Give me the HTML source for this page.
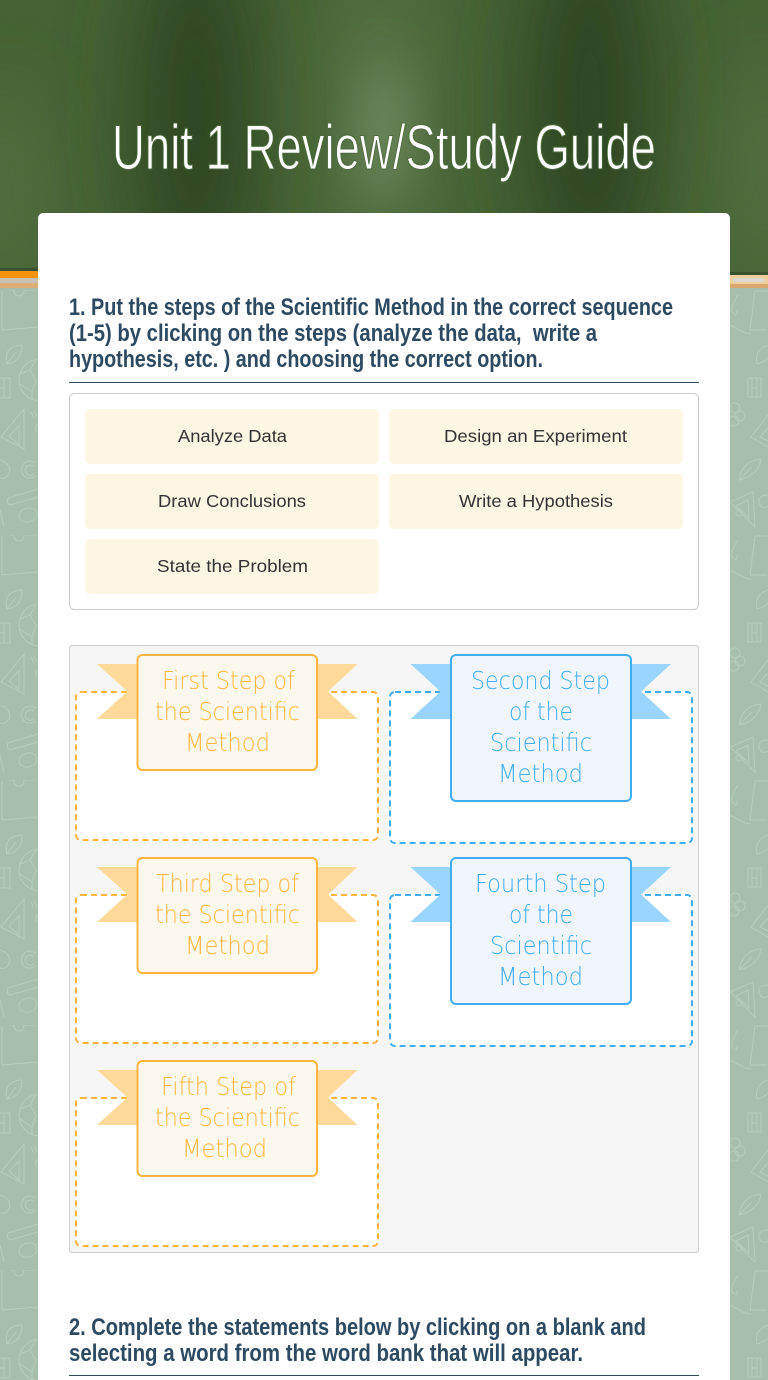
<!DOCTYPE html>
<html><head><meta charset="utf-8"><title>Unit 1 Review/Study Guide</title>
<style>html,body{margin:0;padding:0;background:#a6bfad;width:768px;height:1380px;overflow:hidden}svg{display:block}
.h{font:bold 24px "Liberation Sans",sans-serif;fill:#2d4a62}
.c{font:17.5px "Liberation Sans",sans-serif;fill:#333}
.m{font:200 24.5px "DejaVu Sans","Liberation Sans",sans-serif}
.d{fill:none;stroke:#b6cdbd;stroke-width:1}</style></head><body>
<svg xmlns="http://www.w3.org/2000/svg" width="768" height="1380" viewBox="0 0 768 1380">
<defs>
<filter id="bl1" x="-80%" y="-60%" width="260%" height="220%"><feGaussianBlur stdDeviation="40"/></filter>
<filter id="bl2" x="-80%" y="-60%" width="260%" height="220%"><feGaussianBlur stdDeviation="24"/></filter>
<clipPath id="bc"><rect width="768" height="275"/></clipPath>
<pattern id="dood" patternUnits="userSpaceOnUse" x="0" y="290" width="768" height="245" viewBox="0 290 768 245">
<path class="d" d="M2 291V330L38 327M10 290H14Q14 296 19 296Q24 296 24 290H38"/>
<path class="d" d="M7 364Q3 346 22 345Q22 362 7 364ZM7 364L16 352"/>
<circle class="d" cx="40" cy="380" r="21"/><path class="d" d="M20 374L30 370L36 360M20 384L32 392L32 399M30 370L36 380L32 392"/>
<path class="d" d="M0 378H10V398H0M4 378V398M0 388H4"/>
<path class="d" d="M24 409V449L1 437ZM19 426V445L9 436Z"/>
<path class="d" d="M31 412L34 418M34 411L37 417M38 424Q34 428 37 432"/>
<path class="d" d="M0 460Q12 464 9 474Q5 480 0 478"/>
<path class="d" d="M36 463Q24 457 21 470Q24 482 36 476M34 466Q27 463 25 470Q27 478 34 474"/>
<path class="d" d="M8 498L38 489M10 505L38 497M8 498Q6 503 10 505"/>
<ellipse class="d" cx="28" cy="515" rx="9" ry="7" transform="rotate(-15 28 515)"/>
<path class="d" d="M0 510L4 527"/>
<path class="d" d="M750 330L755 291H768M750 330L767 330M738 295Q731 305 732 312Q738 318 737 310"/>
<path class="d" d="M730 325L745 333L751 334"/>
<path class="d" d="M757 364Q754 350 768 345M757 364Q765 362 768 358"/>
<path class="d" d="M748 378H761V397H748ZM752 378V397M757 378V397M752 388H757"/>
<circle class="d" cx="735" cy="408" r="5"/><circle class="d" cx="740" cy="416" r="5"/><circle class="d" cx="734" cy="421" r="5"/>
<path class="d" d="M768 415L751 437L768 447M768 428L760 437L768 441"/>
<path class="d" d="M739 480Q742 461 761 459Q758 476 739 480ZM739 480L752 467"/>
<path class="d" d="M730 502L753 492L755 527ZM736 506L748 500L749 518Z"/>
<path class="d" d="M768 495Q758 495 759 503Q762 510 768 506"/>
<circle class="d" cx="739" cy="513" r="3"/>
</pattern>
<g id="or"><path fill="#ffd999" d="M97 664H140V719H97L127.500 691.500Z"/><path fill="#ffd999" d="M315 664H357.500L328 691.500L357.500 719H315Z"/></g>
<g id="bl"><path fill="#99d5ff" d="M410.500 664H454V719H410.500L440.500 691.500Z"/><path fill="#99d5ff" d="M628 664H671L641 691.500L671 719H628Z"/></g>
</defs>
<rect width="768" height="1380" fill="#a6bfad"/>
<rect y="288" width="768" height="1092" fill="url(#dood)"/>
<g clip-path="url(#bc)">
<rect width="768" height="275" fill="#466335"/>
<g filter="url(#bl1)" fill="#2f4520">
<ellipse cx="195" cy="110" rx="60" ry="190"/><ellipse cx="590" cy="100" rx="65" ry="190"/>
</g>
<g filter="url(#bl1)" fill="#587546">
<ellipse cx="380" cy="110" rx="45" ry="160"/><ellipse cx="0" cy="190" rx="30" ry="100"/><ellipse cx="768" cy="170" rx="30" ry="110"/>
</g>
<g filter="url(#bl2)"><ellipse cx="384" cy="130" rx="22" ry="70" fill="#6f8a5e"/></g>
</g>
<rect y="268" width="38" height="3" fill="#3a5230"/>
<rect x="730" y="272" width="38" height="3" fill="#3a5230"/>
<rect y="271" width="38" height="7" fill="#f5930f"/><rect y="278" width="38" height="5" fill="#c9c2b4"/><rect y="283" width="38" height="5" fill="#dcae78"/>
<rect x="730" y="275" width="38" height="13" fill="#efcf9c"/><rect x="733" y="278" width="31" height="4" fill="#dcdad0"/><rect x="730" y="284" width="38" height="4" fill="#d9a86e"/>
<text x="112" y="169" textLength="544" lengthAdjust="spacingAndGlyphs" font-family="Liberation Sans,sans-serif" font-size="63" fill="#fff" stroke="#4c6a3c" stroke-width="1.100" paint-order="fill stroke">Unit 1 Review/Study Guide</text>
<path d="M43 213H725a5 5 0 0 1 5 5V1380H38V218a5 5 0 0 1 5-5Z" fill="#fff"/>
<text class="h" x="69" y="315" textLength="604" lengthAdjust="spacingAndGlyphs">1. Put the steps of the Scientific Method in the correct sequence</text>
<text class="h" x="69" y="341" textLength="528" lengthAdjust="spacingAndGlyphs" xml:space="preserve">(1-5) by clicking on the steps (analyze the data,  write a</text>
<text class="h" x="69" y="367" textLength="474" lengthAdjust="spacingAndGlyphs">hypothesis, etc. ) and choosing the correct option.</text>
<rect x="69" y="382" width="630" height="1" fill="#2d4a62"/>
<rect x="69.500" y="393.500" width="629" height="216" rx="5" fill="#fff" stroke="#ccc"/>
<g fill="#fdf6e3"><rect x="85" y="409" width="294" height="55" rx="5"/><rect x="389" y="409" width="294" height="55" rx="5"/><rect x="85" y="474" width="294" height="55" rx="5"/><rect x="389" y="474" width="294" height="55" rx="5"/><rect x="85" y="539" width="294" height="55" rx="5"/></g>
<text class="c" x="178" y="442" textLength="109" lengthAdjust="spacingAndGlyphs">Analyze Data</text>
<text class="c" x="444" y="442" textLength="183" lengthAdjust="spacingAndGlyphs">Design an Experiment</text>
<text class="c" x="158" y="507" textLength="148" lengthAdjust="spacingAndGlyphs">Draw Conclusions</text>
<text class="c" x="459" y="507" textLength="154" lengthAdjust="spacingAndGlyphs">Write a Hypothesis</text>
<text class="c" x="157" y="572" textLength="151" lengthAdjust="spacingAndGlyphs">State the Problem</text>
<rect x="69.500" y="645.500" width="629" height="607" rx="3" fill="#f6f6f6" stroke="#ccc"/>
<g fill="#fff" stroke-width="2" stroke-dasharray="6 4">
<rect x="76" y="692" width="302" height="148" rx="5" stroke="#ffb53f"/>
<rect x="390" y="692" width="302" height="151" rx="5" stroke="#42adf5"/>
<rect x="76" y="895" width="302" height="148" rx="5" stroke="#ffb53f"/>
<rect x="390" y="895" width="302" height="151" rx="5" stroke="#42adf5"/>
<rect x="76" y="1098" width="302" height="148" rx="5" stroke="#ffb53f"/>
</g>
<use href="#or"/><use href="#or" y="203"/><use href="#or" y="406"/><use href="#bl"/><use href="#bl" y="203"/>
<g stroke-width="2">
<rect x="137.500" y="655" width="179.500" height="115" rx="5" fill="#fdf8ee" stroke="#ffb53f"/>
<rect x="137.500" y="858" width="179.500" height="115" rx="5" fill="#fdf8ee" stroke="#ffb53f"/>
<rect x="137.500" y="1061" width="179.500" height="115" rx="5" fill="#fdf8ee" stroke="#ffb53f"/>
<rect x="451" y="655" width="180" height="146" rx="5" fill="#f0f6fb" stroke="#42adf5"/>
<rect x="451" y="858" width="180" height="146" rx="5" fill="#f0f6fb" stroke="#42adf5"/>
</g>
<g>
<text class="m" fill="#ffb53f" x="162" y="689" textLength="133" lengthAdjust="spacingAndGlyphs">First Step of</text>
<text class="m" fill="#ffb53f" x="155" y="720" textLength="145" lengthAdjust="spacingAndGlyphs">the Scientific</text>
<text class="m" fill="#ffb53f" x="185" y="751" textLength="85" lengthAdjust="spacingAndGlyphs">Method</text>
<text class="m" fill="#ffb53f" x="156" y="892" textLength="143" lengthAdjust="spacingAndGlyphs">Third Step of</text>
<text class="m" fill="#ffb53f" x="155" y="923" textLength="145" lengthAdjust="spacingAndGlyphs">the Scientific</text>
<text class="m" fill="#ffb53f" x="185" y="954" textLength="85" lengthAdjust="spacingAndGlyphs">Method</text>
<text class="m" fill="#ffb53f" x="161" y="1095" textLength="135" lengthAdjust="spacingAndGlyphs">Fifth Step of</text>
<text class="m" fill="#ffb53f" x="155" y="1126" textLength="145" lengthAdjust="spacingAndGlyphs">the Scientific</text>
<text class="m" fill="#ffb53f" x="182" y="1157" textLength="85" lengthAdjust="spacingAndGlyphs">Method</text>
</g>
<g>
<text class="m" fill="#42adf5" x="471" y="689" textLength="139" lengthAdjust="spacingAndGlyphs">Second Step</text>
<text class="m" fill="#42adf5" x="509" y="720" textLength="64" lengthAdjust="spacingAndGlyphs">of the</text>
<text class="m" fill="#42adf5" x="490" y="751" textLength="102" lengthAdjust="spacingAndGlyphs">Scientific</text>
<text class="m" fill="#42adf5" x="498" y="782" textLength="85" lengthAdjust="spacingAndGlyphs">Method</text>
<text class="m" fill="#42adf5" x="475" y="892" textLength="131" lengthAdjust="spacingAndGlyphs">Fourth Step</text>
<text class="m" fill="#42adf5" x="509" y="923" textLength="64" lengthAdjust="spacingAndGlyphs">of the</text>
<text class="m" fill="#42adf5" x="490" y="954" textLength="102" lengthAdjust="spacingAndGlyphs">Scientific</text>
<text class="m" fill="#42adf5" x="498" y="985" textLength="85" lengthAdjust="spacingAndGlyphs">Method</text>
</g>
<text class="h" x="69" y="1335" textLength="577" lengthAdjust="spacingAndGlyphs">2. Complete the statements below by clicking on a blank and</text>
<text class="h" x="69" y="1361" textLength="514" lengthAdjust="spacingAndGlyphs">selecting a word from the word bank that will appear.</text>
<rect x="69" y="1375" width="630" height="1" fill="#2d4a62"/>
</svg>
</body></html>
